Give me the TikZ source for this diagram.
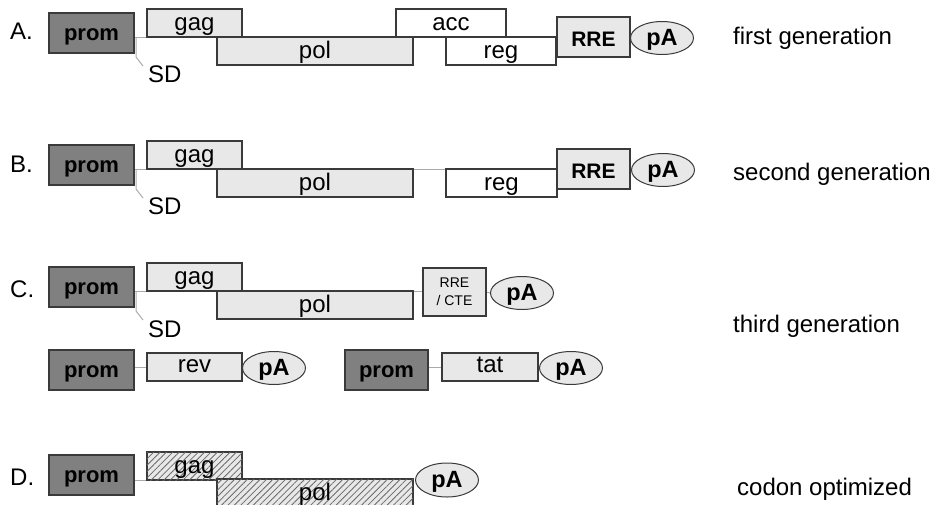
\documentclass[tikz,border=0pt]{standalone}
\usepackage{fontspec}
\setmainfont{Liberation Sans}
\usetikzlibrary{shapes.geometric,patterns.meta}
\definecolor{dk}{HTML}{808080}
\definecolor{lt}{HTML}{E8E8E8}
\definecolor{edge}{HTML}{3A3A3A}
\definecolor{bbc}{HTML}{AAAAAA}
\definecolor{hatch}{HTML}{6A6A6A}
\pgfdeclarelayer{bg}
\pgfsetlayers{bg,main}
\begin{document}
\begin{tikzpicture}[x=1pt,y=-1pt,
  base/.style={draw=edge,line width=1.1pt,inner sep=0pt,outer sep=0pt,anchor=north west},
  prombox/.style={base,fill=dk,minimum width=85pt,minimum height=40pt,text height=27pt,text depth=13pt,font=\fontsize{22}{26}\selectfont\bfseries},
  gene/.style={base,fill=lt,minimum height=28pt,text height=21pt,text depth=7pt,font=\fontsize{24}{28}\selectfont},
  wgene/.style={gene,fill=white},
  hgene/.style={gene,fill=lt,postaction={pattern={Lines[angle=45,distance=4.5pt,line width=0.8pt]},pattern color=hatch}},
  rrebox/.style={base,fill=lt,minimum width=73pt,minimum height=40pt,text height=29pt,text depth=11pt,font=\fontsize{21}{25}\selectfont\bfseries},
  pa/.style={ellipse,draw=edge,line width=1pt,fill=lt,minimum width=63pt,minimum height=33pt,inner sep=0pt,text height=17pt,text depth=3pt,font=\fontsize{23.5}{27}\selectfont\bfseries},
  lbl/.style={anchor=base west,inner sep=0pt,font=\fontsize{24}{28}\selectfont},
  bb/.style={draw=bbc,line width=1pt}
]
\useasboundingbox (0,0) rectangle (938,504);
\clip (0,0) rectangle (938,504);

% ---------- A ----------
\node[lbl] (lA) at (10,39) {A.};
\node[prombox] (promA) at (49,13) {prom};
\node[gene,minimum width=95pt] (gagA) at (147,9) {gag};
\node[gene,minimum width=196pt] (polA) at (217,37) {pol};
\node[wgene,minimum width=110pt] (accA) at (396,9) {acc};
\node[wgene,minimum width=110pt] (regA) at (446,37) {reg};
\node[rrebox] (rreA) at (557,17) {RRE};
\node[pa] (paA) at (662,38) {pA};
\node[lbl] (sdA) at (148,82) {SD};
\node[lbl] (gA) at (733,44) {first generation};
\coordinate (sdA1) at (136,57);
\coordinate (sdA2) at (143,66);

% ---------- B ----------
\node[lbl] (lB) at (10,172) {B.};
\node[prombox] (promB) at (49,145) {prom};
\node[gene,minimum width=95pt] (gagB) at (147,141) {gag};
\node[gene,minimum width=196pt] (polB) at (217,169) {pol};
\node[wgene,minimum width=111pt] (regB) at (446,169) {reg};
\node[rrebox] (rreB) at (557,149) {RRE};
\node[pa] (paB) at (663,170) {pA};
\node[lbl] (sdB) at (148,214) {SD};
\node[lbl] (gB) at (733,180) {second generation};
\coordinate (sdB1) at (136,189);
\coordinate (sdB2) at (143,198);

% ---------- C ----------
\node[lbl] (lC) at (10,297) {C.};
\node[prombox] (promC) at (49,267) {prom};
\node[gene,minimum width=95pt] (gagC) at (147,263) {gag};
\node[gene,minimum width=196pt] (polC) at (217,291) {pol};
\node[base,fill=lt,minimum width=63pt,minimum height=48pt,align=center,
      font=\fontsize{14}{18}\selectfont] (rrectC) at (423,268) {RRE\\/ CTE};
\node[pa] (paC) at (522,293) {pA};
\node[lbl] (sdC) at (148,337) {SD};
\node[lbl] (gC) at (733,332) {third generation};
\coordinate (sdC1) at (136,311);
\coordinate (sdC2) at (143,320);

\node[prombox] (promR) at (49,350) {prom};
\node[gene,minimum width=95pt,text height=19pt,text depth=9pt] (revR) at (147,353) {rev};
\node[pa] (paR) at (274,368) {pA};
\node[prombox,minimum width=83pt] (promT) at (345,350) {prom};
\node[gene,minimum width=96pt,text height=19pt,text depth=9pt] (tatT) at (442,353) {tat};
\node[pa] (paT) at (571,368) {pA};

% ---------- D ----------
\node[lbl] (lD) at (10,485) {D.};
\node[prombox] (promD) at (49,455) {prom};
\node[hgene,minimum width=95pt] (gagD) at (147,452) {gag};
\node[hgene,minimum width=196pt] (polD) at (217,479) {pol};
\node[pa,minimum height=34pt] (paD) at (447,480) {pA};
\node[lbl] (gD) at (737,495) {codon optimized};

% ---------- backbones ----------
\begin{pgfonlayer}{bg}
\draw[bb] (promA.east |- gagA.south) -- (rreA.west |- gagA.south);
\draw[bb] ([xshift=2pt]promA.east |- gagA.south) -- (sdA1) -- (sdA2);
\draw[bb] (promB.east |- gagB.south) -- (rreB.west |- gagB.south);
\draw[bb] ([xshift=2pt]promB.east |- gagB.south) -- (sdB1) -- (sdB2);
\draw[bb] (promC.east |- gagC.south) -- (rrectC.west |- gagC.south);
\draw[bb] (rrectC.east) -- (paC.west);
\draw[bb] ([xshift=2pt]promC.east |- gagC.south) -- (sdC1) -- (sdC2);
\draw[bb] (promR.east |- revR.west) -- (revR.west);
\draw[bb] (promT.east |- tatT.west) -- (tatT.west);
\draw[bb] (promD.east |- gagD.south) -- (gagD.south west);
\end{pgfonlayer}
\end{tikzpicture}
\end{document}
